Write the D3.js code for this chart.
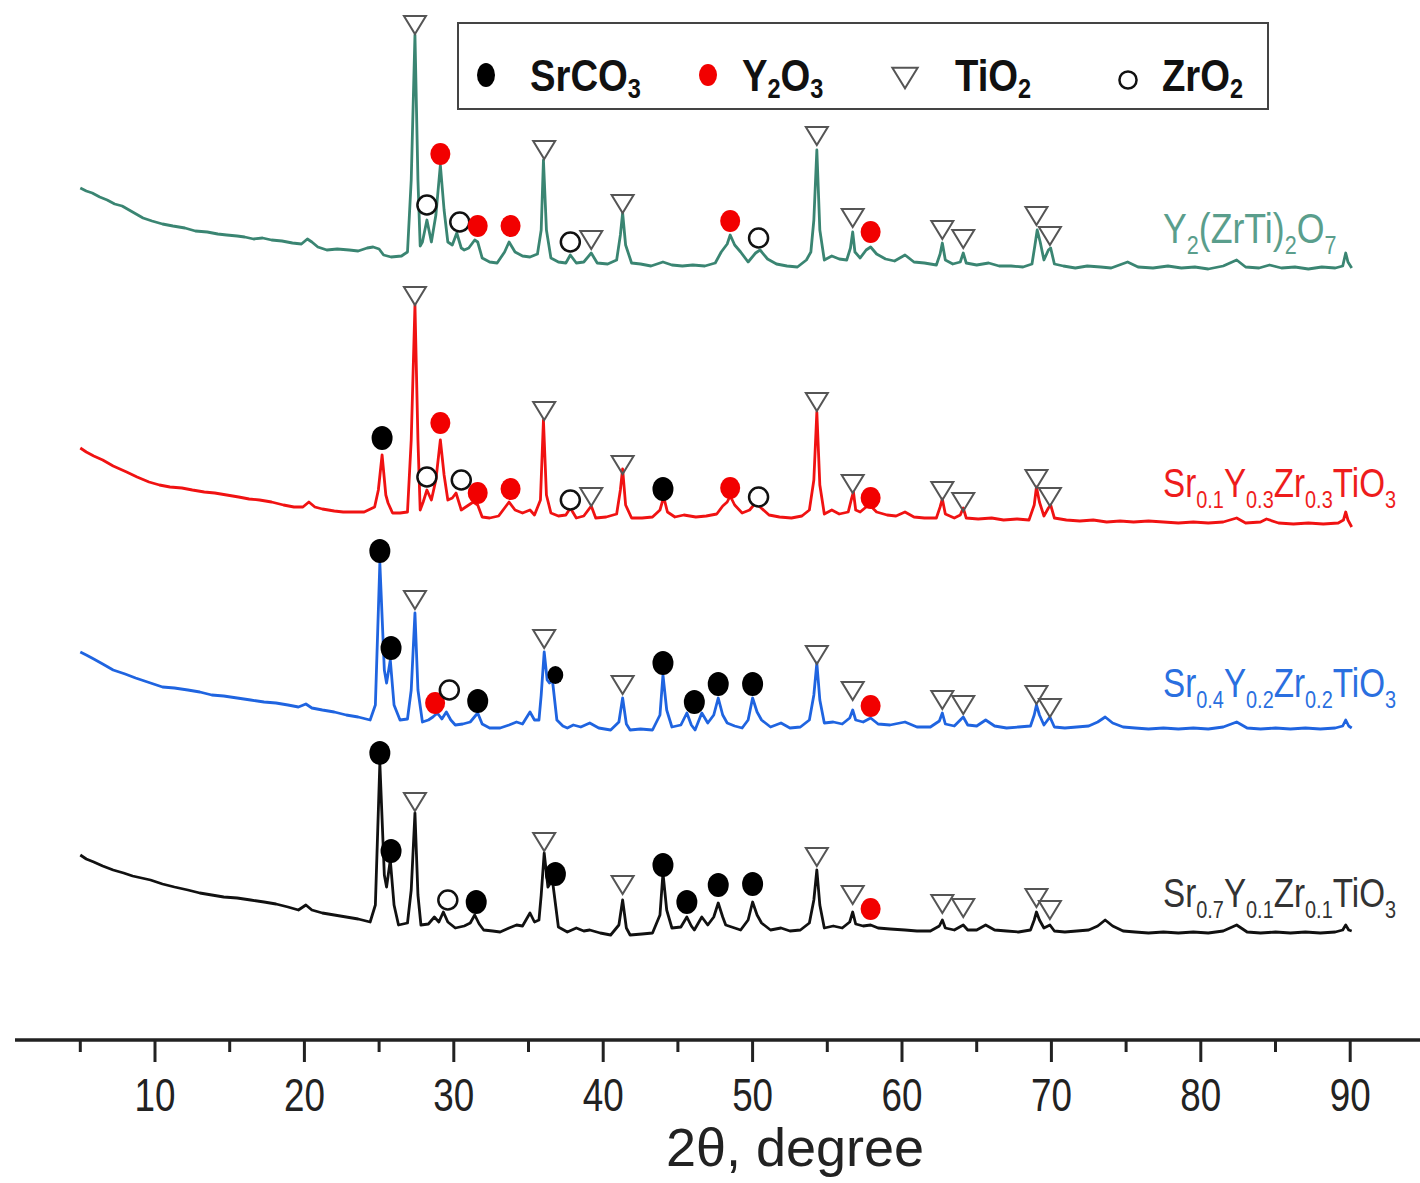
<!DOCTYPE html>
<html>
<head>
<meta charset="utf-8">
<script src="https://cdn.jsdelivr.net/npm/d3@7"></script>
<style>
  body { margin: 0; background: #fff; }
  svg { display: block; }
  text { font-family: "Liberation Sans", Arial, sans-serif; }
</style>
</head>
<body>
<svg width="1420" height="1183"></svg>
<script>
// ---- data (2θ in degrees, intensity in a.u. above each pattern's own zero) ----
const blackPattern = [[5.0,95],[5.4,91],[5.9,88],[6.5,84],[7.2,80],[7.9,77],[8.5,74],[9.7,70],[10.5,66],[11.3,63],[12.2,60],[13.0,57],[13.8,55],[14.6,53],[15.5,52],[16.4,50],[17.3,48],[18.1,46],[18.9,43],[19.6,40],[20.1,45],[20.5,40],[21.2,37],[22.0,35],[22.8,33],[23.6,31],[24.4,28],[24.75,45],[25.05,187],[25.35,75],[25.5,63],[25.75,90],[26.0,45],[26.3,25],[26.9,27],[27.15,60],[27.4,137],[27.6,55],[27.8,25],[28.3,26],[28.7,33],[29.0,28],[29.3,38],[29.6,28],[30.1,22],[30.7,24],[31.1,27],[31.4,35],[31.7,26],[32.0,20],[32.6,19],[33.1,18],[33.7,22],[34.2,25],[34.6,24],[35.1,37],[35.4,28],[35.7,30],[35.85,55],[36.05,97],[36.3,63],[36.6,70],[37.0,23],[37.6,18],[38.2,22],[38.7,19],[39.1,20],[39.8,17],[40.5,15],[41.05,25],[41.3,50],[41.55,22],[41.8,15],[42.6,16],[43.3,17],[43.8,35],[44.0,77],[44.25,40],[44.6,22],[45.2,23],[45.6,33],[45.9,24],[46.1,20],[46.6,33],[47.0,25],[47.4,33],[47.7,47],[48.0,33],[48.2,25],[48.8,22],[49.2,20],[49.7,30],[50.0,48],[50.3,35],[50.6,27],[51.2,20],[51.9,22],[52.5,19],[53.2,20],[53.8,27],[54.1,50],[54.3,80],[54.5,45],[54.8,22],[55.4,24],[56.0,22],[56.5,28],[56.7,38],[56.9,26],[57.4,24],[57.9,25],[58.4,22],[59.2,21],[60.2,20],[61.0,19],[61.9,19],[62.5,24],[62.7,30],[62.9,22],[63.5,20],[64.1,25],[64.4,20],[65.0,20],[65.6,25],[66.2,20],[67.0,19],[67.8,18],[68.6,20],[68.85,30],[69.0,38],[69.2,30],[69.5,22],[69.9,25],[70.2,19],[70.9,18],[71.7,19],[72.5,20],[73.1,24],[73.6,30],[74.1,24],[74.8,19],[75.6,18],[76.5,17],[77.5,18],[78.5,17],[79.5,18],[80.5,17],[81.5,19],[82.4,25],[83.1,18],[84.0,17],[85.0,18],[86.0,17],[87.0,18],[88.0,17],[89.0,18],[89.5,20],[89.7,25],[89.9,20],[90.1,19]];

const bluePattern = [[5.0,98],[5.4,95],[5.9,91],[6.5,86],[7.2,80],[8.0,76],[8.7,72],[9.7,67],[10.5,63],[11.3,62],[12.2,60],[13.0,58],[13.8,55],[14.6,54],[15.5,52],[16.4,50],[17.3,48],[18.1,47],[18.9,45],[19.6,43],[20.1,46],[20.5,42],[21.2,40],[22.0,38],[22.8,35],[23.6,33],[24.4,30],[24.75,45],[25.05,187],[25.35,80],[25.5,67],[25.75,90],[26.0,45],[26.4,30],[26.9,31],[27.15,60],[27.4,137],[27.6,60],[27.9,28],[28.3,30],[28.6,33],[28.9,37],[29.2,31],[29.5,38],[29.8,30],[30.1,25],[30.6,26],[31.1,28],[31.6,37],[31.9,26],[32.4,22],[33.1,22],[33.7,25],[34.2,28],[34.6,26],[35.1,38],[35.4,30],[35.7,30],[35.85,55],[36.05,98],[36.25,70],[36.4,67],[36.6,70],[36.9,30],[37.3,24],[37.6,22],[38.0,25],[38.5,23],[39.1,27],[39.7,22],[40.5,20],[41.05,28],[41.3,52],[41.55,26],[41.8,20],[42.5,21],[43.3,20],[43.8,35],[44.0,75],[44.25,40],[44.6,23],[45.2,25],[45.6,37],[45.9,25],[46.15,20],[46.6,37],[47.0,27],[47.4,35],[47.7,52],[48.0,35],[48.3,27],[48.8,24],[49.3,22],[49.7,30],[50.0,52],[50.3,38],[50.6,30],[51.2,23],[51.9,27],[52.5,22],[53.2,23],[53.8,30],[54.1,55],[54.3,87],[54.5,50],[54.8,27],[55.4,28],[56.0,26],[56.5,32],[56.7,40],[56.9,30],[57.4,28],[57.9,32],[58.4,26],[59.2,25],[60.2,28],[61.0,23],[61.9,23],[62.5,29],[62.7,37],[62.9,26],[63.5,24],[64.1,33],[64.4,25],[65.0,24],[65.6,30],[66.2,24],[67.0,22],[67.8,23],[68.6,24],[68.85,35],[69.0,45],[69.2,35],[69.5,25],[69.9,33],[70.2,23],[70.9,22],[71.7,23],[72.5,24],[73.1,28],[73.6,33],[74.1,27],[74.8,23],[75.6,22],[76.5,21],[77.5,22],[78.5,21],[79.5,22],[80.5,21],[81.5,23],[82.4,28],[83.1,22],[84.0,21],[85.0,22],[86.0,21],[87.0,22],[88.0,21],[89.0,22],[89.5,24],[89.7,30],[89.9,24],[90.1,22]];

const redPattern = [[5.0,92],[5.4,88],[5.9,84],[6.5,80],[7.2,74],[8.1,68],[8.8,63],[9.6,58],[10.3,55],[11.0,53],[11.8,52],[12.5,50],[13.3,48],[14.0,47],[14.8,45],[15.6,43],[16.3,41],[17.0,40],[17.8,38],[18.6,35],[19.3,33],[19.9,33],[20.3,38],[20.7,33],[21.2,31],[22.0,29],[22.6,28],[23.3,28],[24.0,28],[24.7,33],[24.95,50],[25.2,85],[25.45,45],[25.6,37],[25.9,27],[26.4,27],[26.9,28],[27.15,100],[27.4,235],[27.6,100],[27.75,30],[27.95,38],[28.2,50],[28.5,40],[28.8,60],[29.1,100],[29.35,65],[29.6,40],[29.9,42],[30.15,47],[30.5,30],[30.9,34],[31.3,38],[31.6,35],[31.9,23],[32.4,22],[33.0,24],[33.4,32],[33.7,38],[34.1,30],[34.6,27],[35.1,30],[35.4,25],[35.8,40],[36.0,120],[36.2,45],[36.5,27],[37.0,24],[37.5,25],[37.8,32],[38.2,22],[38.7,24],[39.2,34],[39.5,22],[40.2,23],[40.9,26],[41.15,50],[41.3,71],[41.5,35],[41.9,22],[42.6,22],[43.3,23],[43.8,30],[44.05,43],[44.3,28],[44.8,23],[45.4,25],[46.2,23],[46.9,24],[47.6,26],[48.0,34],[48.3,38],[48.5,44],[48.8,35],[49.3,27],[49.8,30],[50.2,37],[50.5,33],[51.1,25],[51.8,23],[52.6,22],[53.3,24],[53.8,30],[54.1,60],[54.3,128],[54.5,55],[54.8,26],[55.3,30],[55.8,26],[56.4,28],[56.6,40],[56.75,48],[56.9,30],[57.2,28],[57.6,33],[57.9,34],[58.3,28],[59.0,25],[59.6,24],[60.2,28],[60.8,23],[61.5,22],[62.3,22],[62.55,33],[62.7,41],[62.9,26],[63.5,22],[63.9,25],[64.1,32],[64.3,22],[65.1,21],[66.0,22],[66.8,20],[67.7,21],[68.5,20],[68.85,35],[69.0,53],[69.2,38],[69.5,24],[69.8,32],[69.95,35],[70.2,22],[71.0,20],[71.9,19],[72.8,20],[73.7,18],[74.6,19],[75.5,18],[76.5,19],[77.5,18],[78.5,17],[79.5,18],[80.5,17],[81.5,18],[82.4,22],[83.0,17],[84.0,18],[84.4,21],[85.2,17],[86.2,16],[87.2,17],[88.2,16],[89.2,17],[89.55,20],[89.7,28],[89.85,20],[90.1,13]];

const greenPattern = [[5.0,102],[5.4,99],[5.8,97],[6.3,93],[6.8,90],[7.3,86],[7.8,84],[8.5,78],[9.2,72],[9.8,69],[10.5,66],[11.2,64],[12,62],[12.7,59],[13.5,58],[14.2,56],[14.8,55],[15.5,54],[16,53],[16.6,51],[17.2,52],[17.8,50],[18.5,49],[19.2,47],[19.8,46],[20.2,51],[20.5,48],[20.9,43],[21.5,40],[22.2,41],[23,40],[23.6,39],[24.2,42],[24.6,43],[25.0,41],[25.3,35],[25.8,33],[26.5,34],[26.9,38],[27.15,110],[27.4,255],[27.6,110],[27.75,44],[27.9,48],[28.2,70],[28.5,48],[28.8,75],[29.1,125],[29.35,80],[29.6,48],[29.9,45],[30.2,57],[30.5,42],[30.7,40],[31.0,42],[31.4,50],[31.6,48],[31.9,32],[32.4,28],[32.9,27],[33.4,38],[33.7,48],[34.1,38],[34.6,34],[35.1,33],[35.6,36],[35.85,60],[36.0,130],[36.2,60],[36.5,32],[37.0,28],[37.5,27],[37.8,35],[38.2,27],[38.7,28],[39.2,37],[39.6,27],[40.3,26],[40.9,30],[41.15,55],[41.3,77],[41.5,45],[41.9,27],[42.5,26],[43.2,24],[44.0,28],[44.6,25],[45.3,24],[46.0,25],[46.8,24],[47.5,27],[47.9,38],[48.3,46],[48.5,55],[48.8,45],[49.2,38],[49.7,28],[50.2,37],[50.5,40],[51.0,31],[51.6,26],[52.3,24],[53.0,23],[53.6,30],[53.9,38],[54.1,70],[54.3,140],[54.5,60],[54.8,30],[55.3,34],[55.8,31],[56.3,30],[56.55,42],[56.7,58],[56.85,38],[57.2,32],[57.6,40],[57.9,43],[58.3,36],[58.9,31],[59.5,29],[60.2,35],[60.8,28],[61.5,27],[62.3,25],[62.55,36],[62.7,47],[62.9,30],[63.4,26],[63.9,28],[64.1,37],[64.3,27],[65.0,25],[65.8,27],[66.5,24],[67.3,24],[68.1,23],[68.7,26],[68.9,45],[69.05,60],[69.25,48],[69.5,30],[69.8,40],[69.95,42],[70.2,26],[70.8,24],[71.6,22],[72.4,24],[73.3,23],[74.0,22],[75.1,28],[75.8,23],[76.8,22],[77.8,24],[78.7,22],[79.6,23],[80.5,21],[81.5,24],[82.4,30],[83.0,23],[83.9,22],[84.6,25],[85.4,22],[86.3,23],[87.2,21],[88.1,23],[89.0,22],[89.5,24],[89.7,37],[89.85,28],[90.1,22]];

// phase markers: [2θ, intensity, phase]
const blackMarks = [[25.05,197,"SrCO3"],[25.8,99,"SrCO3"],[27.4,148,"TiO2"],[29.6,50,"ZrO2"],[31.5,48,"SrCO3"],[36.05,108,"TiO2"],[36.8,76,"SrCO3"],[41.3,65,"TiO2"],[44.0,85,"SrCO3"],[45.6,48,"SrCO3"],[47.7,65,"SrCO3"],[50.0,66,"SrCO3"],[54.3,93,"TiO2"],[56.7,55,"TiO2"],[57.9,41,"Y2O3"],[62.7,46,"TiO2"],[64.1,42,"TiO2"],[69.0,52,"TiO2"],[69.9,40,"TiO2"]];
const blueMarks = [[25.05,199,"SrCO3"],[25.8,102,"SrCO3"],[27.4,150,"TiO2"],[28.75,47,"Y2O3"],[29.7,60,"ZrO2"],[31.6,49,"SrCO3"],[36.05,111,"TiO2"],[36.8,75,"SrCO3s"],[41.3,65,"TiO2"],[44.0,87,"SrCO3"],[46.1,48,"SrCO3"],[47.7,66,"SrCO3"],[50.0,66,"SrCO3"],[54.3,95,"TiO2"],[56.7,59,"TiO2"],[57.9,44,"Y2O3"],[62.7,50,"TiO2"],[64.1,45,"TiO2"],[69.0,55,"TiO2"],[69.9,42,"TiO2"]];
const redMarks = [[25.2,102,"SrCO3"],[27.4,244,"TiO2"],[28.2,63,"ZrO2"],[29.1,117,"Y2O3"],[30.5,60,"ZrO2"],[31.6,47,"Y2O3"],[33.8,51,"Y2O3"],[36.05,129,"TiO2"],[37.8,40,"ZrO2"],[39.2,43,"TiO2"],[41.3,75,"TiO2"],[44.0,51,"SrCO3"],[48.5,52,"Y2O3"],[50.4,43,"ZrO2"],[54.3,138,"TiO2"],[56.7,56,"TiO2"],[57.9,42,"Y2O3"],[62.7,49,"TiO2"],[64.1,38,"TiO2"],[69.0,61,"TiO2"],[69.9,43,"TiO2"]];
const greenMarks = [[27.4,265,"TiO2"],[28.2,85,"ZrO2"],[29.1,136,"Y2O3"],[30.4,68,"ZrO2"],[31.6,64,"Y2O3"],[33.8,64,"Y2O3"],[36.05,140,"TiO2"],[37.8,48,"ZrO2"],[39.2,50,"TiO2"],[41.3,86,"TiO2"],[48.5,69,"Y2O3"],[50.4,52,"ZrO2"],[54.3,154,"TiO2"],[56.7,72,"TiO2"],[57.9,58,"Y2O3"],[62.7,60,"TiO2"],[64.1,51,"TiO2"],[69.0,74,"TiO2"],[69.9,54,"TiO2"]];

// vertical stacking offsets (a.u.)
const stackOffsets = [0, 200, 410, 660];

// sample names, as [text, isSubscript] parts
const blackName = [["Sr",0],["0.7",1],["Y",0],["0.1",1],["Zr",0],["0.1",1],["TiO",0],["3",1]];
const blueName  = [["Sr",0],["0.4",1],["Y",0],["0.2",1],["Zr",0],["0.2",1],["TiO",0],["3",1]];
const redName   = [["Sr",0],["0.1",1],["Y",0],["0.3",1],["Zr",0],["0.3",1],["TiO",0],["3",1]];
const greenName = [["Y",0],["2",1],["(ZrTi)",0],["2",1],["O",0],["7",1]];

// legend entries
const legendPhases = ["SrCO3", "Y2O3", "TiO2", "ZrO2"];
const legendNames = [
  [["SrCO",0],["3",1]],
  [["Y",0],["2",1],["O",0],["3",1]],
  [["TiO",0],["2",1]],
  [["ZrO",0],["2",1]]
];

const xMajor = [10, 20, 30, 40, 50, 60, 70, 80, 90];
const xMinor = [5, 15, 25, 35, 45, 55, 65, 75, 85];

// ---- drawing ----
const svg = d3.select("svg");
const x = d3.scaleLinear().domain([0, 95]).range([5.6, 5.6 + 95 * 14.94]);
const y = d3.scaleLinear().domain([0, 950]).range([950, 0]);

const series = [
  { data: blackPattern, marks: blackMarks, name: blackName, color: "#111111", label: "#333333", off: stackOffsets[0], ly: 907, fs: 40 },
  { data: bluePattern,  marks: blueMarks,  name: blueName,  color: "#1f64e0", label: "#2a6fe0", off: stackOffsets[1], ly: 697, fs: 40 },
  { data: redPattern,   marks: redMarks,   name: redName,   color: "#f01212", label: "#ee1c1c", off: stackOffsets[2], ly: 497, fs: 40 },
  { data: greenPattern, marks: greenMarks, name: greenName, color: "#3a8572", label: "#5a9e8c", off: stackOffsets[3], ly: 243, fs: 43 }
];

const line = d3.line()
  .x(d => x(d[0]))
  .y(d => y(d[1]));

// condensed text with subscripts (the source figure uses a narrow face)
const writeParts = (parent, px, py, sx, parts, size, subSize, drop) => {
  const g = parent.append("g").attr("transform", `translate(${px},${py}) scale(${sx},1)`);
  const textSel = g.append("text").attr("x", 0).attr("y", 0);
  let lowered = false;
  parts.forEach(([t, sub]) => {
    const ts = textSel.append("tspan").text(t);
    if (sub) {
      ts.attr("font-size", subSize).attr("dy", lowered ? 0 : drop);
      lowered = true;
    } else {
      ts.attr("font-size", size).attr("dy", lowered ? -drop : 0);
      lowered = false;
    }
  });
  return textSel;
};

const drawMarker = (sel, phase, cx, cy, scale) => {
  const s = scale || 1;
  if (phase === "SrCO3" || phase === "SrCO3s") {
    const k = phase === "SrCO3s" ? 0.75 : 1;
    sel.append("ellipse").attr("cx", cx).attr("cy", cy)
      .attr("rx", 10.5 * k * s).attr("ry", 12 * k * s).attr("fill", "#000");
  } else if (phase === "Y2O3") {
    sel.append("ellipse").attr("cx", cx).attr("cy", cy)
      .attr("rx", 10 * s).attr("ry", 11 * s).attr("fill", "#f20000");
  } else if (phase === "TiO2") {
    const w = 11 * s, h = 9 * s;
    sel.append("path")
      .attr("d", `M${cx - w},${cy - h}L${cx + w},${cy - h}L${cx},${cy + h}Z`)
      .attr("fill", "none").attr("stroke", "#555").attr("stroke-width", 2);
  } else if (phase === "ZrO2") {
    sel.append("circle").attr("cx", cx).attr("cy", cy).attr("r", 9.5 * s)
      .attr("fill", "#fff").attr("stroke", "#111").attr("stroke-width", 2.5);
  }
};

series.forEach(s => {
  const shifted = s.data.map(d => [d[0], d[1] + s.off]);
  svg.append("path")
    .datum(shifted)
    .attr("d", line)
    .attr("fill", "none")
    .attr("stroke", s.color)
    .attr("stroke-width", 2.8)
    .attr("stroke-linejoin", "round");

  const mg = svg.append("g");
  s.marks.forEach(m => drawMarker(mg, m[2], x(m[0]), y(m[1] + s.off)));

  writeParts(svg, 1163, s.ly, 0.83, s.name, s.fs, Math.round(s.fs * 0.6), 11)
    .attr("fill", s.label);
});

// legend
const lg = svg.append("g");
lg.append("rect")
  .attr("x", 458).attr("y", 23).attr("width", 810).attr("height", 86)
  .attr("fill", "#fff").attr("stroke", "#444").attr("stroke-width", 2);
const legendMarkX = [486, 708, 905, 1128];
const legendTextX = [530, 742, 955, 1162];
legendPhases.forEach((p, i) => {
  if (p === "SrCO3") {
    lg.append("ellipse").attr("cx", legendMarkX[i]).attr("cy", 75).attr("rx", 9).attr("ry", 12).attr("fill", "#000");
  } else if (p === "Y2O3") {
    lg.append("ellipse").attr("cx", legendMarkX[i]).attr("cy", 75).attr("rx", 9).attr("ry", 11).attr("fill", "#f20000");
  } else if (p === "TiO2") {
    drawMarker(lg, p, legendMarkX[i], 78, 1.15);
  } else {
    drawMarker(lg, p, legendMarkX[i], 80, 0.9);
  }
  writeParts(lg, legendTextX[i], 91, 0.87, legendNames[i], 44, 27, 7)
    .attr("font-weight", "bold").attr("fill", "#111");
});

// x axis
const axisY = 1040;
const ax = svg.append("g");
ax.append("line")
  .attr("x1", 15).attr("x2", 1420).attr("y1", axisY).attr("y2", axisY)
  .attr("stroke", "#222").attr("stroke-width", 3.5);
ax.selectAll(".major").data(xMajor).join("line")
  .attr("class", "major")
  .attr("x1", d => x(d)).attr("x2", d => x(d))
  .attr("y1", axisY).attr("y2", axisY + 22)
  .attr("stroke", "#222").attr("stroke-width", 3);
ax.selectAll(".minor").data(xMinor).join("line")
  .attr("class", "minor")
  .attr("x1", d => x(d)).attr("x2", d => x(d))
  .attr("y1", axisY).attr("y2", axisY + 12)
  .attr("stroke", "#222").attr("stroke-width", 3);
ax.selectAll(".tl").data(xMajor).join("g")
  .attr("class", "tl")
  .attr("transform", d => `translate(${x(d)},1111) scale(0.8,1)`)
  .append("text")
  .attr("text-anchor", "middle")
  .attr("font-size", 46).attr("fill", "#222")
  .text(d => d);
ax.append("text")
  .attr("x", 795).attr("y", 1166)
  .attr("text-anchor", "middle")
  .attr("font-size", 54).attr("fill", "#222")
  .text("2θ, degree");
</script>
</body>
</html>
